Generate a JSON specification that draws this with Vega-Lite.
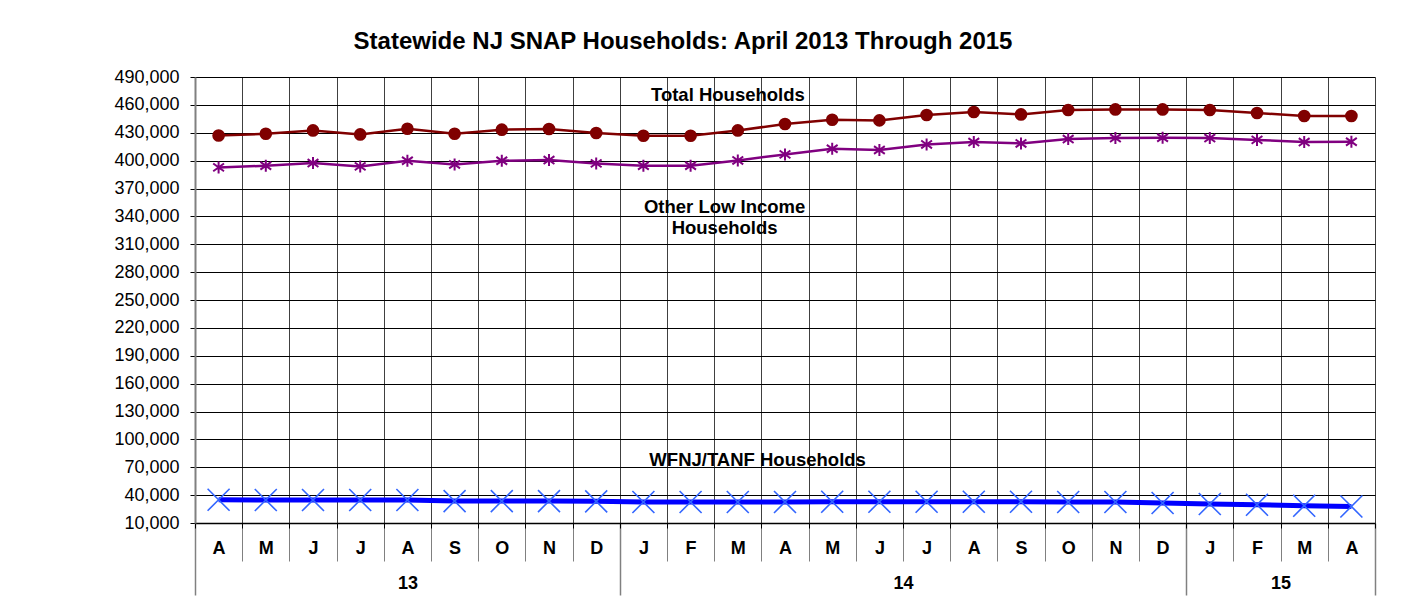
{
  "$schema": "https://vega.github.io/schema/vega-lite/v6.json",
  "width": 1180,
  "height": 446,
  "autosize": {"type": "none"},
  "padding": {"left": 195, "top": 77, "right": 37, "bottom": 91},
  "background": "white",
  "title": {"text": "Statewide NJ SNAP Households: April 2013 Through 2015", "fontSize": 24, "fontWeight": "bold", "font": "Liberation Sans", "color": "black", "anchor": "middle", "dx": -102, "offset": 14},
  "config": {"view": {"stroke": null}, "font": "Liberation Sans", "axis": {"labelFont": "Liberation Sans", "labelColor": "black", "labelOverlap": false, "labelFlush": false, "labelBound": false}},
  "datasets": {
    "snap": [
      {"period": 1, "total": 427000, "other": 392700, "tanf": 35000},
      {"period": 2, "total": 428900, "other": 394500, "tanf": 34700},
      {"period": 3, "total": 432500, "other": 397400, "tanf": 34700},
      {"period": 4, "total": 428200, "other": 393800, "tanf": 34700},
      {"period": 5, "total": 434300, "other": 399900, "tanf": 34700},
      {"period": 6, "total": 428900, "other": 395900, "tanf": 33600},
      {"period": 7, "total": 433300, "other": 399900, "tanf": 33600},
      {"period": 8, "total": 434000, "other": 400600, "tanf": 33600},
      {"period": 9, "total": 429700, "other": 397000, "tanf": 33300},
      {"period": 10, "total": 426800, "other": 394500, "tanf": 32600},
      {"period": 11, "total": 426800, "other": 394500, "tanf": 32600},
      {"period": 12, "total": 432500, "other": 400200, "tanf": 32600},
      {"period": 13, "total": 439400, "other": 406700, "tanf": 32600},
      {"period": 14, "total": 444000, "other": 412800, "tanf": 32900},
      {"period": 15, "total": 443300, "other": 411400, "tanf": 32900},
      {"period": 16, "total": 449100, "other": 417400, "tanf": 32900},
      {"period": 17, "total": 452300, "other": 420000, "tanf": 32900},
      {"period": 18, "total": 449700, "other": 418500, "tanf": 32900},
      {"period": 19, "total": 454500, "other": 423200, "tanf": 32600},
      {"period": 20, "total": 455100, "other": 424300, "tanf": 32600},
      {"period": 21, "total": 455100, "other": 424600, "tanf": 31500},
      {"period": 22, "total": 454500, "other": 424300, "tanf": 30400},
      {"period": 23, "total": 451300, "other": 422300, "tanf": 29700},
      {"period": 24, "total": 448000, "other": 420000, "tanf": 28600},
      {"period": 25, "total": 448000, "other": 420300, "tanf": 27800}
    ],
    "notes": [
      {"period": 11.79, "value": 464700, "label": "Total Households"},
      {"period": 11.72, "value": 343600, "label": "Other Low Income"},
      {"period": 11.72, "value": 321300, "label": "Households"},
      {"period": 12.42, "value": 71700, "label": "WFNJ/TANF Households"}
    ]
  },
  "layer": [
    {
      "data": {"name": "snap"},
      "mark": {"type": "line", "color": "#0000FF", "strokeWidth": 5},
      "encoding": {
        "x": {"field": "period", "type": "quantitative", "scale": {"domain": [0.5, 25.5], "nice": false, "zero": false},
          "axis": {"orient": "bottom", "title": null, "values": [0.5,1.5,2.5,3.5,4.5,5.5,6.5,7.5,8.5,9.5,10.5,11.5,12.5,13.5,14.5,15.5,16.5,17.5,18.5,19.5,20.5,21.5,22.5,23.5,24.5,25.5], "grid": true, "gridColor": "#404040", "gridWidth": 1, "gridOpacity": 1, "ticks": false, "labels": false, "domain": false}},
        "y": {"field": "tanf", "type": "quantitative", "scale": {"domain": [10000, 490000], "nice": false, "zero": false},
          "axis": {"orient": "left", "title": null, "values": [10000,40000,70000,100000,130000,160000,190000,220000,250000,280000,310000,340000,370000,400000,430000,460000,490000], "labelExpr": "format(datum.value, ',')", "labelFontSize": 18, "labelPadding": 11, "tickSize": 5, "tickColor": "black", "grid": true, "gridColor": "black", "gridOpacity": 1, "gridWidth": 1, "domain": true, "domainColor": "#808080", "domainWidth": 2}}
      }
    },
    {
      "data": {"name": "snap"},
      "mark": {"type": "point", "shape": "M-1,-1L1,1M-1,1L1,-1", "filled": false, "stroke": "#3366FF", "strokeWidth": 1.6, "size": 484, "opacity": 1},
      "encoding": {
        "x": {"field": "period", "type": "quantitative",
          "axis": {"orient": "bottom", "title": null, "values": [0.5,1.5,2.5,3.5,4.5,5.5,6.5,7.5,8.5,9.5,10.5,11.5,12.5,13.5,14.5,15.5,16.5,17.5,18.5,19.5,20.5,21.5,22.5,23.5,24.5,25.5], "grid": false, "ticks": true, "tickSize": 38, "tickColor": "#808080", "tickWidth": 1, "labels": false, "domain": false}},
        "y": {"field": "tanf", "type": "quantitative", "axis": null}
      }
    },
    {
      "data": {"name": "snap"},
      "mark": {"type": "line", "color": "#800000", "strokeWidth": 2.5},
      "encoding": {
        "x": {"field": "period", "type": "quantitative",
          "axis": {"orient": "bottom", "title": null, "values": [0.5, 9.5, 21.5, 25.5], "grid": false, "ticks": true, "tickSize": 72, "tickColor": "#808080", "tickWidth": 1.5, "labels": false, "domain": false}},
        "y": {"field": "total", "type": "quantitative", "axis": null}
      }
    },
    {
      "data": {"name": "snap"},
      "mark": {"type": "point", "shape": "circle", "filled": true, "color": "#800000", "size": 160, "opacity": 1},
      "encoding": {
        "x": {"field": "period", "type": "quantitative",
          "axis": {"orient": "bottom", "title": null, "values": [0.5,1.5,2.5,3.5,4.5,5.5,6.5,7.5,8.5,9.5,10.5,11.5,12.5,13.5,14.5,15.5,16.5,17.5,18.5,19.5,20.5,21.5,22.5,23.5,24.5,25.5], "grid": false, "ticks": true, "tickSize": 5, "tickColor": "black", "labels": false, "domain": true, "domainColor": "black", "domainWidth": 1.5}},
        "y": {"field": "total", "type": "quantitative", "axis": null}
      }
    },
    {
      "data": {"name": "snap"},
      "mark": {"type": "line", "color": "#800080", "strokeWidth": 2.5},
      "encoding": {
        "x": {"field": "period", "type": "quantitative",
          "axis": {"orient": "bottom", "title": null, "values": [1,2,3,4,5,6,7,8,9,10,11,12,13,14,15,16,17,18,19,20,21,22,23,24,25], "labelExpr": "['A','M','J','J','A','S','O','N','D','J','F','M'][(datum.value - 1) % 12]", "grid": false, "ticks": false, "domain": false, "labelFontSize": 18, "labelFontWeight": "bold", "labelBaseline": "middle", "labelPadding": 25}},
        "y": {"field": "other", "type": "quantitative", "axis": null}
      }
    },
    {
      "data": {"name": "snap"},
      "mark": {"type": "point", "shape": "M0,-1L0,1M-0.9,-0.65L0.9,0.65M-0.9,0.65L0.9,-0.65", "filled": false, "stroke": "#800080", "strokeWidth": 2, "size": 144, "opacity": 1},
      "encoding": {
        "x": {"field": "period", "type": "quantitative",
          "axis": {"orient": "bottom", "title": null, "values": [5, 15.5, 23.5], "labelExpr": "datum.value < 9 ? '13' : (datum.value < 20 ? '14' : '15')", "grid": false, "ticks": false, "domain": false, "labelFontSize": 18, "labelFontWeight": "bold", "labelBaseline": "middle", "labelPadding": 60}},
        "y": {"field": "other", "type": "quantitative", "axis": null}
      }
    },
    {
      "data": {"name": "notes"},
      "mark": {"type": "text", "fontSize": 18.5, "fontWeight": "bold", "font": "Liberation Sans", "color": "black", "align": "center", "baseline": "alphabetic"},
      "encoding": {
        "x": {"field": "period", "type": "quantitative", "axis": null},
        "y": {"field": "value", "type": "quantitative", "axis": null},
        "text": {"field": "label", "type": "nominal"}
      }
    }
  ],
  "resolve": {"axis": {"x": "independent", "y": "independent"}}
}
